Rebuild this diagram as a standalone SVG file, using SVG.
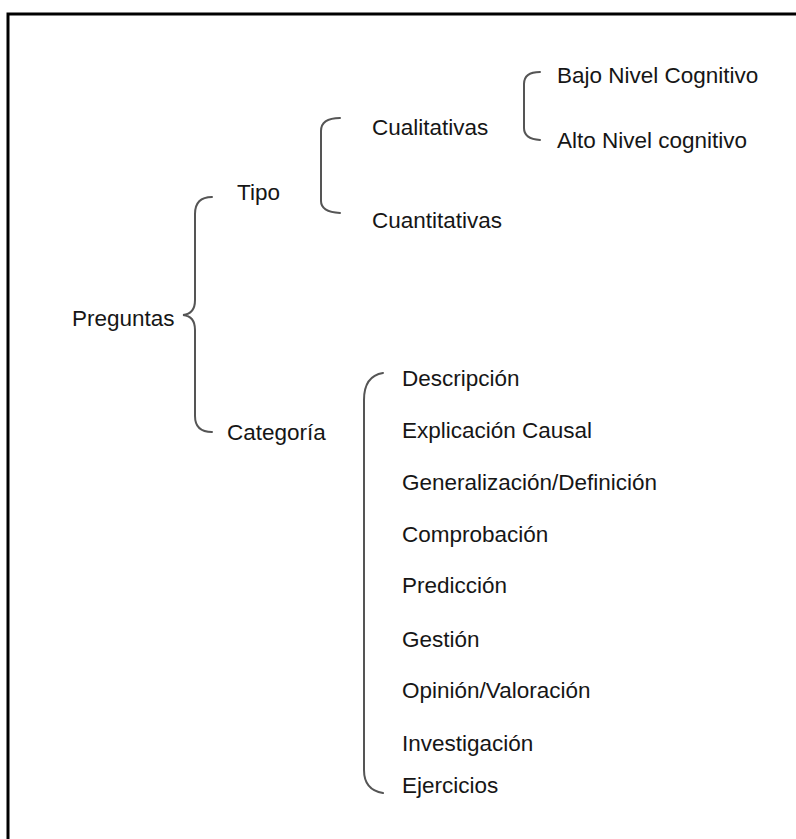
<svg xmlns="http://www.w3.org/2000/svg" width="796" height="839" viewBox="0 0 796 839">
  <style>
    .lbl { font-family: "Liberation Sans", Arial, sans-serif; font-size: 22.5px; fill: #161616; }
    .br { fill: none; stroke: #555; stroke-width: 2; stroke-linecap: round; }
  </style>
  <rect x="0" y="0" width="796" height="839" fill="#fff"/>
  <rect x="8" y="14" width="820" height="860" fill="none" stroke="#000" stroke-width="3"/>

  <g id="connectors">
    <path class="br" d="M212,197 Q195,197 195,214 L195,300 Q195,314 183,315 Q195,316 195,330 L195,416 Q195,432 212,432"/>
    <path class="br" d="M340,118 Q321,118 321,131 L321,201 Q321,212 340,213"/>
    <path class="br" d="M540,72 Q524,72 524,84 L524,128 Q524,139 540,140"/>
    <path class="br" d="M383,373 Q364,376 364,400 L364,770 Q364,790 383,793"/>
  </g>

  <g id="preguntas"><text class="lbl" x="72" y="326">Preguntas</text></g>
  <g id="tipo"><text class="lbl" x="237" y="200">Tipo</text></g>
  <g id="categoria"><text class="lbl" x="227" y="440">Categoría</text></g>
  <g id="cualitativas"><text class="lbl" x="372" y="135">Cualitativas</text></g>
  <g id="cuantitativas"><text class="lbl" x="372" y="228">Cuantitativas</text></g>
  <g id="bajo"><text class="lbl" x="557" y="83">Bajo Nivel Cognitivo</text></g>
  <g id="alto"><text class="lbl" x="557" y="148">Alto Nivel cognitivo</text></g>
  <g id="descripcion"><text class="lbl" x="402" y="386">Descripción</text></g>
  <g id="explicacion"><text class="lbl" x="402" y="438">Explicación Causal</text></g>
  <g id="generalizacion"><text class="lbl" x="402" y="490">Generalización/Definición</text></g>
  <g id="comprobacion"><text class="lbl" x="402" y="542">Comprobación</text></g>
  <g id="prediccion"><text class="lbl" x="402" y="593">Predicción</text></g>
  <g id="gestion"><text class="lbl" x="402" y="647">Gestión</text></g>
  <g id="opinion"><text class="lbl" x="402" y="698">Opinión/Valoración</text></g>
  <g id="investigacion"><text class="lbl" x="402" y="751">Investigación</text></g>
  <g id="ejercicios"><text class="lbl" x="402" y="793">Ejercicios</text></g>
</svg>
